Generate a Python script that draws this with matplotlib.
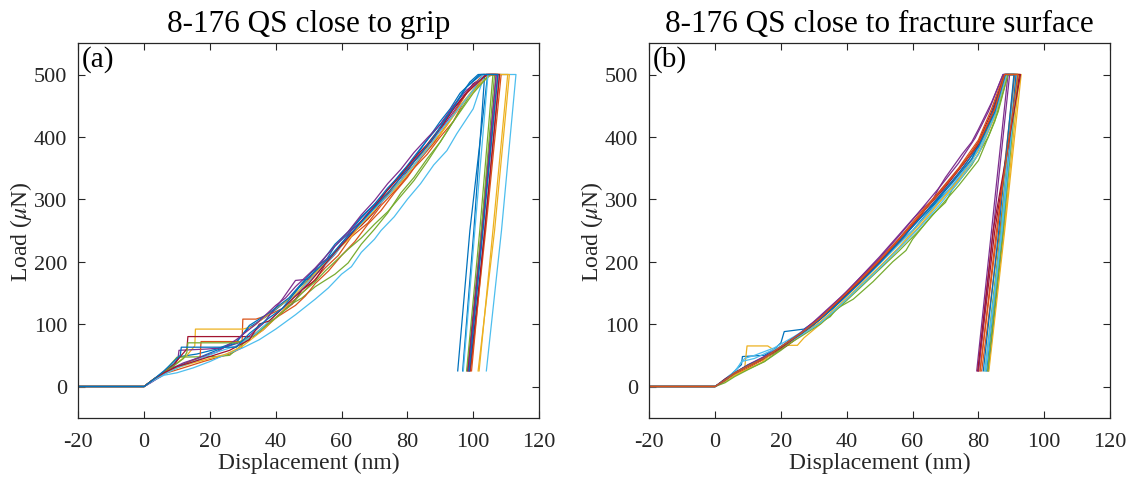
import matplotlib
matplotlib.use("Agg")
import matplotlib.pyplot as plt

# ---------------- data ----------------
titles = ["8-176 QS close to grip", "8-176 QS close to fracture surface"]
panel_tags = ["(a)", "(b)"]
x_label = "Displacement (nm)"
y_label = "Load ($\\mu$N)"
x_ticks = [-20, 0, 20, 40, 60, 80, 100, 120]
y_ticks = [0, 100, 200, 300, 400, 500]
colors = ["#0072BD", "#D95319", "#EDB120", "#7E2F8E", "#77AC30", "#4DBEEE", "#A2142F"]
peak_load = 500
unload_mid_load = 250
unload_end_load = 25

# panel (a): loading branches (x nm, load uN)
g01_x = [-20, 0, 3, 6, 9, 11, 16, 22, 28, 32, 38, 44, 47, 50, 55, 58, 62, 66, 70, 74, 78, 82, 86, 90, 93, 96, 99, 101.5]
g01_y = [0, 0, 12, 24, 36, 48, 52, 60, 72, 95, 115, 140, 158, 172, 200, 225, 245, 270, 292, 315, 342, 365, 395, 420, 440, 465, 488, 500]
g02_x = [-20, 0, 3, 7, 12, 18, 22, 26, 29.7, 30, 34, 38, 42, 46, 50, 55, 59, 63, 68, 72, 77, 82, 86, 90, 94, 97, 104]
g02_y = [0, 0, 12, 22, 30, 40, 46, 52, 62, 108, 108, 115, 125, 140, 160, 190, 210, 240, 262, 290, 318, 350, 372, 400, 425, 455, 500]
g03_x = [-20, 0, 3, 7, 10, 13, 15.4, 15.6, 30, 33, 40, 44, 48, 52, 56, 60, 64, 68, 72, 76, 80, 84, 88, 92, 96, 103, 105]
g03_y = [0, 0, 12, 26, 38, 50, 65, 92, 92, 96, 125, 140, 165, 182, 205, 228, 250, 268, 295, 315, 340, 368, 390, 418, 450, 495, 500]
g04_x = [-20, 0, 3, 6, 9, 10.3, 10.6, 19, 24, 30, 36, 42, 46, 50, 53, 58, 63, 66, 70, 74, 78, 82, 86, 90, 94, 100, 104.5]
g04_y = [0, 0, 10, 20, 32, 45, 58, 60, 62, 72, 100, 140, 170, 172, 194, 215, 250, 265, 290, 310, 335, 362, 385, 410, 440, 485, 500]
g05_x = [-20, 0, 3, 6, 8, 10, 22, 26, 30, 36, 40, 44, 48, 52, 58, 62, 66, 70, 74, 78, 82, 86, 90, 94, 100, 105.5]
g05_y = [0, 0, 11, 22, 35, 47, 48, 50, 68, 95, 110, 130, 142, 160, 180, 198, 228, 252, 278, 310, 335, 365, 392, 425, 475, 500]
g06_x = [-20, 0, 3, 6, 10, 15, 20, 25, 30, 35, 40, 46, 52, 56, 60, 63, 66, 70, 72, 76, 80, 84, 88, 92, 95, 100, 103.5]
g06_y = [0, 0, 10, 18, 22, 30, 40, 52, 62, 75, 92, 115, 140, 158, 180, 192, 215, 236, 250, 272, 300, 325, 355, 378, 405, 445, 500]
g07_x = [-20, 0, 3, 6, 9, 11, 13, 13.3, 33, 36, 42, 45, 48, 52, 55, 58, 62, 66, 70, 74, 78, 82, 86, 90, 94, 100, 104.5]
g07_y = [0, 0, 12, 22, 35, 48, 60, 80, 80, 90, 120, 132, 155, 170, 195, 212, 240, 258, 280, 308, 330, 360, 385, 412, 445, 485, 500]
g08_x = [-20, 0, 3, 7, 11, 16, 22, 28, 32, 38, 44, 50, 54, 58, 62, 66, 70, 74, 78, 82, 86, 90, 93, 96, 102]
g08_y = [0, 0, 12, 24, 34, 45, 58, 70, 98, 118, 142, 178, 200, 228, 248, 272, 292, 318, 340, 368, 395, 425, 445, 470, 500]
g09_x = [-20, 0, 3, 6, 10, 14, 17, 17.3, 30, 34, 40, 46, 49, 52, 56, 60, 64, 68, 72, 76, 80, 84, 88, 92, 98, 103]
g09_y = [0, 0, 12, 22, 30, 40, 46, 72, 72, 85, 110, 130, 145, 165, 185, 210, 232, 260, 282, 310, 335, 365, 390, 420, 470, 500]
g10_x = [-20, 0, 3, 6, 10, 15, 20, 25, 30, 36, 42, 46, 50, 54, 58, 62, 66, 70, 74, 78, 82, 86, 90, 97, 104, 106]
g10_y = [0, 0, 12, 20, 30, 38, 45, 52, 65, 90, 120, 148, 170, 190, 215, 235, 260, 282, 310, 330, 355, 382, 405, 455, 495, 500]
g11_x = [-20, 0, 2, 5, 8, 12, 16, 22, 28, 34, 40, 43, 46, 52, 58, 62, 66, 70, 74, 78, 82, 86, 90, 94, 98, 104]
g11_y = [0, 0, 6, 16, 28, 38, 45, 55, 75, 100, 130, 142, 160, 190, 225, 248, 275, 298, 325, 348, 375, 398, 420, 450, 475, 500]
g12_x = [-20, 0, 3, 6, 9, 12, 13, 13.3, 28, 33, 40, 44, 48, 52, 55, 62, 66, 70, 74, 78, 82, 86, 90, 94, 100, 105]
g12_y = [0, 0, 12, 22, 33, 45, 55, 70, 70, 80, 110, 128, 150, 168, 185, 220, 238, 260, 280, 305, 330, 360, 392, 425, 470, 500]
g13_x = [-20, 0, 3, 7, 11, 16, 22, 28, 34, 40, 46, 50, 54, 58, 62, 66, 70, 74, 78, 82, 86, 90, 94, 100, 103]
g13_y = [0, 0, 10, 22, 32, 42, 55, 65, 85, 115, 145, 168, 190, 212, 240, 262, 285, 305, 330, 355, 380, 410, 435, 475, 500]
g14_x = [-20, 0, 3, 6, 10, 14, 20, 26, 32, 35, 38, 44, 50, 54, 58, 62, 66, 70, 74, 78, 82, 86, 90, 94, 98, 104]
g14_y = [0, 0, 12, 22, 32, 38, 48, 58, 75, 100, 105, 135, 165, 190, 215, 238, 265, 288, 315, 338, 365, 388, 415, 445, 470, 500]
g15_x = [-20, 0, 3, 6, 9, 11, 11.3, 28, 32, 38, 42, 45, 48, 52, 56, 60, 64, 68, 72, 76, 80, 84, 88, 92, 95, 98, 102.5]
g15_y = [0, 0, 12, 25, 40, 50, 63, 63, 85, 110, 125, 145, 165, 185, 205, 230, 252, 275, 298, 322, 348, 372, 400, 432, 455, 480, 500]
# panel (a): end of hold, unloading at mid load and at end load (x nm)
g_hold_x = [104.4, 108, 110.5, 107, 106.5, 113, 107.5, 103.5, 108.5, 111, 107, 106, 104.5, 108, 107.5]
g_mid_x = [99, 103.5, 106, 102.5, 102.5, 108.6, 102.8, 100.2, 103.8, 106.5, 102.8, 102, 100.5, 103.5, 103]
g_end_x = [95.3, 99.5, 101.8, 98.2, 98.8, 104, 98.4, 96.8, 99.2, 101.5, 98.6, 98, 97, 99, 98.8]

# panel (b): loading branches
f01_x = [-20, 0, 2, 5, 8, 8.3, 15, 18, 20, 21, 27, 32, 38, 44, 50, 56, 60, 64, 68, 72, 76, 80, 85, 88.5]
f01_y = [0, 0, 8, 20, 35, 48, 50, 60, 70, 88, 92, 110, 138, 168, 198, 230, 250, 275, 300, 320, 348, 380, 440, 500]
f02_x = [-20, 0, 3, 6, 10, 14, 20, 26, 32, 38, 44, 50, 56, 60, 64, 68, 72, 76, 80, 85, 88]
f02_y = [0, 0, 10, 22, 32, 42, 62, 82, 108, 136, 166, 198, 230, 258, 280, 305, 328, 355, 388, 445, 500]
f03_x = [-20, 0, 3, 6, 9, 9.7, 16, 18, 22, 25, 27, 32, 38, 44, 50, 56, 62, 68, 74, 80, 85, 88.5]
f03_y = [0, 0, 10, 20, 30, 65, 65, 58, 66, 66, 78, 100, 130, 160, 192, 224, 260, 296, 332, 378, 440, 500]
f04_x = [-20, 0, 3, 6, 10, 15, 20, 25, 30, 35, 40, 45, 50, 55, 60, 63, 66, 68, 70, 75, 78, 80, 84, 87.5]
f04_y = [0, 0, 10, 22, 35, 48, 63, 82, 104, 128, 152, 180, 208, 238, 268, 285, 298, 318, 335, 372, 392, 412, 455, 500]
f05_x = [-20, 0, 3, 6, 10, 15, 20, 25, 30, 35, 37, 42, 48, 54, 58, 60, 66, 70, 72, 78, 83, 86, 89]
f05_y = [0, 0, 8, 18, 28, 40, 58, 78, 96, 112, 125, 140, 168, 200, 218, 236, 275, 295, 315, 355, 400, 440, 500]
f06_x = [-20, 0, 3, 6, 9, 12, 18, 24, 30, 36, 42, 48, 54, 60, 66, 72, 78, 83, 86, 88.5]
f06_y = [0, 0, 10, 25, 45, 50, 62, 80, 100, 126, 156, 186, 218, 250, 285, 322, 362, 410, 450, 500]
f07_x = [-20, 0, 3, 7, 11, 16, 22, 28, 34, 40, 46, 52, 58, 64, 70, 76, 80, 84, 88]
f07_y = [0, 0, 12, 25, 36, 48, 66, 90, 118, 148, 178, 210, 245, 285, 320, 360, 392, 440, 500]
f08_x = [-20, 0, 3, 6, 10, 15, 20, 25, 30, 36, 42, 48, 54, 60, 66, 72, 78, 83, 88]
f08_y = [0, 0, 10, 22, 33, 46, 64, 82, 100, 126, 158, 190, 222, 256, 290, 326, 365, 420, 500]
f09_x = [-20, 0, 3, 6, 10, 15, 20, 26, 32, 38, 44, 50, 56, 62, 68, 74, 80, 84, 87.8]
f09_y = [0, 0, 10, 20, 30, 44, 62, 84, 110, 140, 172, 204, 238, 276, 312, 350, 395, 445, 500]
f10_x = [-20, 0, 3, 6, 10, 14, 17, 20, 26, 32, 38, 44, 50, 56, 62, 68, 74, 80, 85, 88.5]
f10_y = [0, 0, 8, 18, 28, 38, 52, 62, 82, 104, 132, 162, 192, 222, 256, 294, 330, 372, 432, 500]
f11_x = [-20, 0, 3, 6, 10, 15, 20, 26, 32, 38, 44, 50, 56, 62, 68, 74, 79, 83, 87.5]
f11_y = [0, 0, 10, 22, 34, 48, 64, 86, 112, 142, 174, 206, 242, 280, 318, 358, 398, 440, 500]
f12_x = [-20, 0, 3, 6, 10, 15, 20, 26, 32, 38, 44, 50, 56, 62, 68, 74, 80, 85, 89]
f12_y = [0, 0, 6, 16, 27, 40, 60, 80, 100, 128, 158, 188, 218, 250, 286, 322, 362, 425, 500]
f13_x = [-20, 0, 3, 6, 8, 12, 16, 20, 26, 32, 38, 44, 50, 56, 62, 68, 74, 80, 85, 88.5]
f13_y = [0, 0, 10, 22, 40, 45, 55, 64, 82, 102, 130, 160, 190, 222, 254, 290, 328, 372, 435, 500]
f14_x = [-20, 0, 3, 6, 10, 15, 20, 26, 32, 38, 44, 50, 56, 62, 68, 74, 80, 84, 88]
f14_y = [0, 0, 10, 22, 34, 46, 62, 84, 108, 138, 168, 200, 236, 272, 310, 348, 388, 432, 500]
f15_x = [-20, 0, 3, 6, 10, 15, 20, 26, 32, 38, 44, 50, 56, 62, 68, 74, 80, 85, 88.2]
f15_y = [0, 0, 10, 22, 34, 46, 64, 84, 108, 136, 166, 198, 232, 268, 304, 342, 384, 440, 500]
f16_x = [-20, 0, 3, 6, 10, 15, 20, 26, 32, 38, 44, 50, 56, 62, 68, 74, 80, 85, 88]
f16_y = [0, 0, 10, 22, 33, 46, 64, 85, 110, 140, 170, 202, 236, 273, 310, 348, 390, 445, 500]
f_hold_x = [91.5, 92, 92.5, 89, 91, 91, 92.5, 91.5, 91, 93, 89.5, 92, 91.8, 92.8, 90.8, 92]
f_mid_x = [87, 86.5, 87.8, 84, 86.8, 87, 85, 87.5, 85.8, 88, 84.5, 87.5, 87.2, 84.5, 86.2, 85.5]
f_end_x = [82.5, 81, 83, 79.5, 82, 82.3, 80, 83, 80.5, 83.2, 80, 82.8, 82, 79.8, 81.5, 80.5]

grip_x = [g01_x, g02_x, g03_x, g04_x, g05_x, g06_x, g07_x, g08_x, g09_x, g10_x, g11_x, g12_x, g13_x, g14_x, g15_x]
grip_y = [g01_y, g02_y, g03_y, g04_y, g05_y, g06_y, g07_y, g08_y, g09_y, g10_y, g11_y, g12_y, g13_y, g14_y, g15_y]
frac_x = [f01_x, f02_x, f03_x, f04_x, f05_x, f06_x, f07_x, f08_x, f09_x, f10_x, f11_x, f12_x, f13_x, f14_x, f15_x, f16_x]
frac_y = [f01_y, f02_y, f03_y, f04_y, f05_y, f06_y, f07_y, f08_y, f09_y, f10_y, f11_y, f12_y, f13_y, f14_y, f15_y, f16_y]

# ---------------- plot ----------------
plt.rcParams['font.family'] = ['Liberation Serif', 'DejaVu Serif']
plt.rcParams['mathtext.fontset'] = 'stix'
dark = '#262626'

fig = plt.figure(figsize=(11.3, 4.81), dpi=100)
ax_a = fig.add_axes([78.3 / 1130, (481 - 418.7) / 481, 460.7 / 1130, 374.4 / 481])
ax_b = fig.add_axes([649.3 / 1130, (481 - 418.7) / 481, 460.7 / 1130, 374.4 / 481])

panels = [(ax_a, grip_x, grip_y, g_hold_x, g_mid_x, g_end_x),
          (ax_b, frac_x, frac_y, f_hold_x, f_mid_x, f_end_x)]

for i, (ax, xs, ys, hx, mx, ex) in enumerate(panels):
    for k in range(len(xs)):
        cx = list(xs[k]) + [hx[k], mx[k], ex[k]]
        cy = list(ys[k]) + [peak_load, unload_mid_load, unload_end_load]
        ax.plot(cx, cy, color=colors[k % len(colors)], lw=0.9)
    ax.set_xlim(-20, 120)
    ax.set_ylim(-50, 550)
    ax.set_xticks(x_ticks)
    ax.set_xticklabels([str(v) for v in x_ticks])
    ax.set_yticks(y_ticks)
    ax.tick_params(direction='in', top=True, right=True, length=5, width=0.8,
                   labelsize=16, colors=dark)
    ax.tick_params(axis='x', pad=10)
    ax.tick_params(axis='y', pad=8)
    for s in ax.spines.values():
        s.set_color(dark)
        s.set_linewidth(0.9)
    ax.set_xlabel(x_label, fontsize=17, color=dark, labelpad=1)
    ax.set_ylabel(y_label, fontsize=17, color=dark, labelpad=0)
    ax.set_title(titles[i], fontsize=22.5, color='black', pad=9)
    ax.text(0.008, 0.995, panel_tags[i], transform=ax.transAxes, fontsize=21,
            ha='left', va='top', color='black')

fig.savefig("out.png", dpi=100)
